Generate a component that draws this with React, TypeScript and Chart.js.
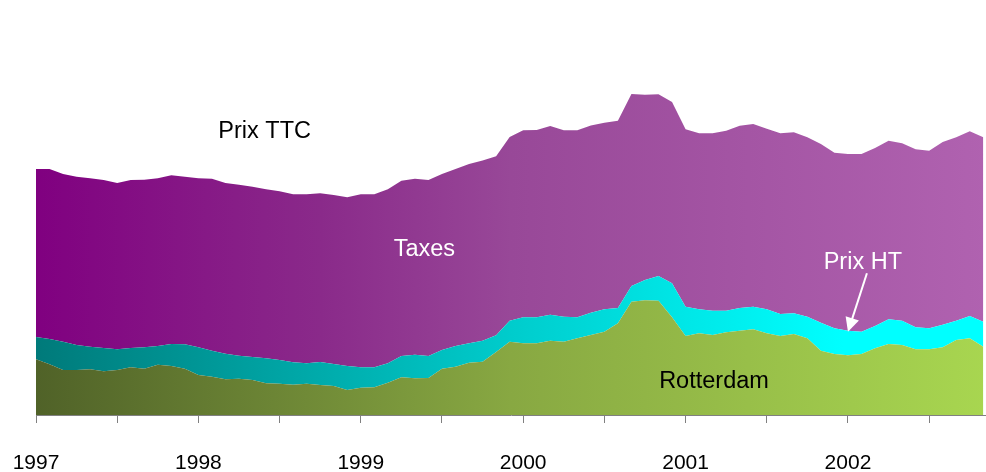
import React, { useEffect, useRef } from "react";
import { Chart, registerables } from "chart.js";

Chart.register(...registerables);

// Months since Jan 1997 (0 .. 70)
const ROTTERDAM = [
  22.3, 20.3, 18.0, 18.0, 18.3, 17.5, 18.0, 19.1, 18.5, 20.1, 19.6, 18.5,
  16.0, 15.3, 14.3, 14.5, 14.0, 12.7, 12.5, 12.1, 12.5, 12.0, 11.6, 10.0,
  10.9, 11.1, 12.9, 15.1, 14.7, 14.8, 18.5, 19.3, 20.9, 21.3, 25.2, 29.3,
  28.7, 28.7, 29.7, 29.3, 30.7, 32.0, 33.3, 36.7, 45.3, 45.9, 45.7, 39.1,
  31.6, 32.7, 32.0, 33.1, 33.7, 34.3, 32.7, 31.6, 32.4, 30.7, 25.7, 24.4,
  23.9, 24.4, 26.7, 28.4, 28.0, 26.3, 26.3, 27.1, 30.0, 30.7, 27.3,
];
const MARGE_HT = [
  8.9, 10.1, 11.3, 10.0, 9.0, 9.3, 8.3, 7.7, 8.6, 7.5, 8.8, 9.8,
  11.1, 10.4, 10.2, 9.2, 9.2, 10.0, 9.5, 9.0, 8.2, 9.2, 8.8, 9.6,
  8.2, 8.0, 7.8, 8.5, 9.4, 8.8, 7.5, 8.3, 7.8, 8.4, 6.7, 8.4,
  10.4, 10.4, 10.4, 10.0, 8.4, 8.9, 9.0, 6.1, 6.3, 8.1, 9.9, 13.6,
  11.7, 9.6, 9.7, 8.6, 9.1, 9.0, 9.6, 8.8, 8.3, 8.6, 11.2, 10.3,
  9.8, 8.9, 8.9, 9.9, 9.7, 8.8, 8.4, 9.0, 7.7, 8.9, 10.0,
];
const TAXES = [
  67.2, 68.0, 67.1, 67.3, 67.4, 67.2, 66.5, 67.2, 67.0, 67.1, 67.5, 67.0,
  67.6, 68.8, 68.3, 68.4, 68.1, 67.6, 67.5, 67.2, 67.6, 67.5, 67.6, 67.5,
  69.2, 69.2, 69.6, 70.1, 70.4, 70.4, 70.4, 70.8, 71.7, 72.1, 71.6, 73.5,
  74.8, 74.9, 75.5, 74.6, 74.8, 74.9, 74.6, 74.9, 76.8, 74.1, 72.7, 72.5,
  71.0, 70.4, 71.0, 72.0, 72.9, 73.1, 72.2, 72.3, 72.4, 71.8, 71.5, 70.2,
  70.7, 71.1, 71.2, 71.4, 71.0, 71.2, 71.0, 73.1, 73.4, 73.9, 73.8,
];
const YEARS = ["1997", "1998", "1999", "2000", "2001", "2002"];
const TICK_MONTHS = [0, 6, 12, 18, 24, 30, 36, 42, 48, 54, 60, 66];

const LABEL_FONT = "23.5px 'Liberation Sans', Arial, sans-serif";

function gradientFor(stops: [number, string][]) {
  return (ctx: any) => {
    const chart = ctx.chart;
    const area = chart.chartArea;
    if (!area) return stops[0][1];
    const g = chart.ctx.createLinearGradient(area.left, 0, area.right, 0);
    stops.forEach(([o, c]) => g.addColorStop(o, c));
    return g;
  };
}

const annotationPlugin = {
  id: "annotations",
  afterDatasetsDraw(chart: any) {
    const { ctx, scales } = chart;
    const xs = scales.x;
    const ys = scales.y;
    const px = (v: number) => xs.getPixelForValue(v);
    const py = (v: number) => ys.getPixelForValue(v);
    ctx.save();
    ctx.font = LABEL_FONT;
    ctx.textAlign = "center";
    ctx.textBaseline = "middle";
    const texts: [string, number, number, string][] = [
      ["Prix TTC", 16.9, 113.5, "#000000"],
      ["Taxes", 28.7, 66.0, "#ffffff"],
      ["Prix HT", 61.1, 61.0, "#ffffff"],
      ["Rotterdam", 50.1, 13.2, "#000000"],
    ];
    texts.forEach(([t, x, y, c]) => {
      ctx.fillStyle = c;
      ctx.fillText(t, px(x), py(y));
    });
    // arrow
    const x1 = px(61.4), y1 = py(56.7);
    const x2 = px(60.0), y2 = py(33.3);
    const ang = Math.atan2(y2 - y1, x2 - x1);
    const headLen = 14;
    const headW = 7;
    ctx.strokeStyle = "#ffffff";
    ctx.fillStyle = "#ffffff";
    ctx.lineWidth = 2;
    ctx.beginPath();
    ctx.moveTo(x1, y1);
    ctx.lineTo(x2 - Math.cos(ang) * headLen * 0.8, y2 - Math.sin(ang) * headLen * 0.8);
    ctx.stroke();
    ctx.beginPath();
    ctx.moveTo(x2, y2);
    const bx = x2 - Math.cos(ang) * headLen;
    const by = y2 - Math.sin(ang) * headLen;
    ctx.lineTo(bx + Math.sin(ang) * headW, by - Math.cos(ang) * headW);
    ctx.lineTo(bx - Math.sin(ang) * headW, by + Math.cos(ang) * headW);
    ctx.closePath();
    ctx.fill();
    ctx.restore();
  },
};

export default function App() {
  const ref = useRef<HTMLCanvasElement | null>(null);
  useEffect(() => {
    if (!ref.current) return;
    const toPts = (arr: number[]) => arr.map((v, i) => ({ x: i, y: v }));
    const chart = new Chart(ref.current, {
      type: "line",
      data: {
        datasets: [
          {
            label: "Rotterdam",
            data: toPts(ROTTERDAM),
            fill: "origin",
            backgroundColor: gradientFor([
              [0, "#506228"],
              [0.5, "#88a842"],
              [1, "#a8d650"],
            ]),
            borderWidth: 0,
            pointRadius: 0,
            tension: 0,
          },
          {
            label: "Prix HT",
            data: toPts(MARGE_HT),
            fill: "-1",
            backgroundColor: gradientFor([
              [0, "#007a7a"],
              [0.5, "#00cccc"],
              [0.85, "#00ffff"],
              [1, "#00ffff"],
            ]),
            borderWidth: 0,
            pointRadius: 0,
            tension: 0,
          },
          {
            label: "Taxes",
            data: toPts(TAXES),
            fill: "-1",
            backgroundColor: gradientFor([
              [0, "#800080"],
              [0.3, "#8a2a8a"],
              [0.5, "#984898"],
              [1, "#b062b0"],
            ]),
            borderWidth: 0,
            pointRadius: 0,
            tension: 0,
          },
        ],
      },
      options: {
        animation: false,
        responsive: false,
        layout: { padding: { left: 36, right: 0, top: 15, bottom: 0 } },
        plugins: { legend: { display: false }, tooltip: { enabled: false } },
        scales: {
          x: {
            type: "linear",
            min: 0,
            max: 70.2,
            afterBuildTicks: (scale: any) => {
              scale.ticks = TICK_MONTHS.map((v) => ({ value: v }));
            },
            afterFit: (scale: any) => {
              scale.height = 57;
            },
            grid: {
              display: true,
              drawOnChartArea: false,
              drawTicks: true,
              tickLength: 8,
              color: "#808080",
            },
            border: { display: true, color: "#808080", width: 1 },
            ticks: {
              autoSkip: false,
              maxRotation: 0,
              padding: 8,
              color: "#000000",
              font: { family: "'Liberation Sans', Arial, sans-serif", size: 21, lineHeight: "64px" },
              callback: (value: any) =>
                Number(value) % 12 === 0 ? YEARS[Number(value) / 12] : "",
            },
          },
          y: {
            display: false,
            stacked: true,
            min: 0,
            max: 160,
          },
        },
      },
      plugins: [annotationPlugin],
    });
    return () => chart.destroy();
  }, []);
  return (
    <div style={{ position: "fixed", left: 0, top: 0, width: 986, height: 472, background: "#ffffff" }}>
      <canvas ref={ref} width={986} height={472} style={{ display: "block" }} />
    </div>
  );
}
